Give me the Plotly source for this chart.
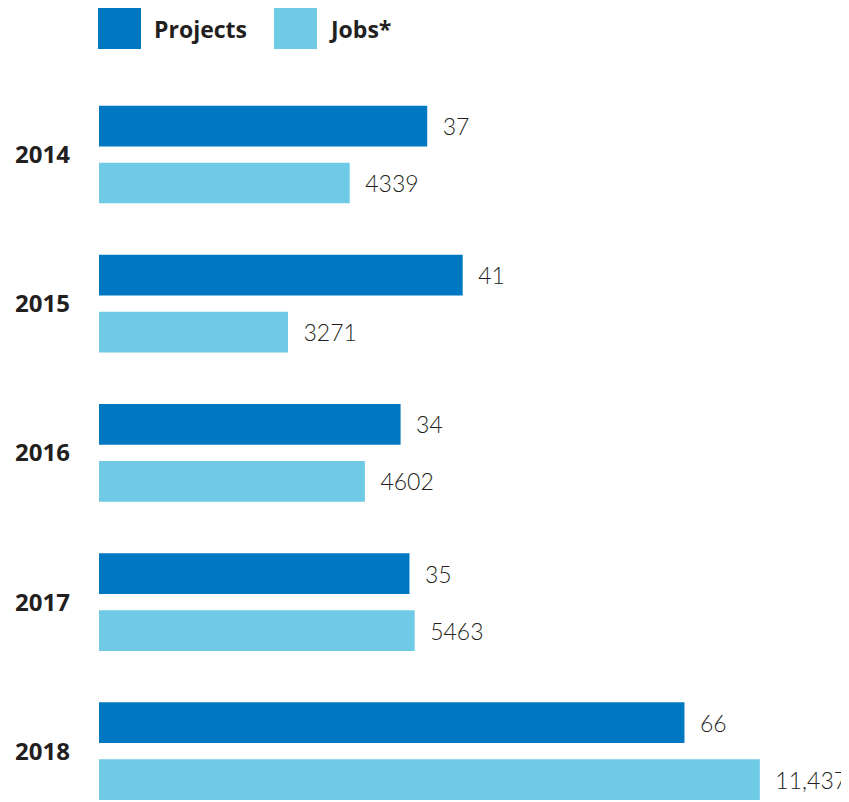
import plotly.graph_objects as go

# Data
years = ["2014", "2015", "2016", "2017", "2018"]
projects = [37, 41, 34, 35, 66]
jobs = [4339, 3271, 4602, 5463, 11437]
project_labels = ["37", "41", "34", "35", "66"]
job_labels = ["4339", "3271", "4602", "5463", "11,437"]

DARK_BLUE = "#0077c1"
LIGHT_BLUE = "#6fcae6"
TEXT_COLOR = "#231f20"

# page body adds an 8px margin around the figure
BODY = 8
W, H = 849 - BODY, 802 - BODY
M_L, M_R, M_T, M_B = 99 - BODY, 0, 80 - BODY, 0
PAD = "\u00a0\u00a0"


def px_to_paper(x_px, y_px):
    """Convert page pixels to paper coordinates (for legend decoration)."""
    pw = W - M_L - M_R
    ph = H - M_T - M_B
    return (x_px - BODY - M_L) / pw, (H - M_B - (y_px - BODY)) / ph


fig = go.Figure()

label_font = dict(family="Lato", size=23, color=TEXT_COLOR, weight=300)

fig.add_trace(go.Bar(
    y=years,
    x=projects,
    orientation="h",
    name="Projects",
    xaxis="x",
    marker=dict(color=DARK_BLUE, line=dict(width=0)),
    width=0.273,
    offset=-0.328,
    text=[PAD + t for t in project_labels],
    textposition="outside",
    textfont=label_font,
    constraintext="none",
    cliponaxis=False,
))

fig.add_trace(go.Bar(
    y=years,
    x=jobs,
    orientation="h",
    name="Jobs*",
    xaxis="x2",
    marker=dict(color=LIGHT_BLUE, line=dict(width=0)),
    width=0.273,
    offset=0.054,
    text=[PAD + t for t in job_labels],
    textposition="outside",
    textfont=label_font,
    constraintext="none",
    cliponaxis=False,
))

# Legend drawn as squares + bold labels above the plot
legend_items = [
    (98, 141, "Projects", 152, DARK_BLUE),
    (274, 317, "Jobs*", 327, LIGHT_BLUE),
]
shapes = []
annotations = []
for x0_px, x1_px, label, tx_px, color in legend_items:
    x0, y0 = px_to_paper(x0_px, 49)
    x1, y1 = px_to_paper(x1_px, 7)
    shapes.append(dict(type="rect", xref="paper", yref="paper",
                       x0=x0, x1=x1, y0=y0, y1=y1,
                       fillcolor=color, line=dict(width=0)))
    tx, ty = px_to_paper(tx_px, 29)
    annotations.append(dict(text=label, xref="paper", yref="paper",
                            x=tx, y=ty, xanchor="left", yanchor="middle",
                            showarrow=False,
                            font=dict(family="Open Sans", size=23,
                                      color=TEXT_COLOR, weight="bold")))

fig.update_layout(
    width=W,
    height=H,
    margin=dict(l=M_L, r=M_R, t=M_T, b=M_B),
    plot_bgcolor="white",
    paper_bgcolor="white",
    showlegend=False,
    xaxis=dict(range=[0, 84.55], visible=False, fixedrange=True),
    xaxis2=dict(range=[0, 12980], overlaying="x", visible=False, fixedrange=True),
    yaxis=dict(
        type="category",
        range=[4.34, -0.5],
        showgrid=False,
        zeroline=False,
        showline=False,
        ticks="",
        ticklabelstandoff=28,
        tickfont=dict(family="Open Sans", size=24, color=TEXT_COLOR, weight="bold"),
    ),
    shapes=shapes,
    annotations=annotations,
)

fig.write_html("out.html")
